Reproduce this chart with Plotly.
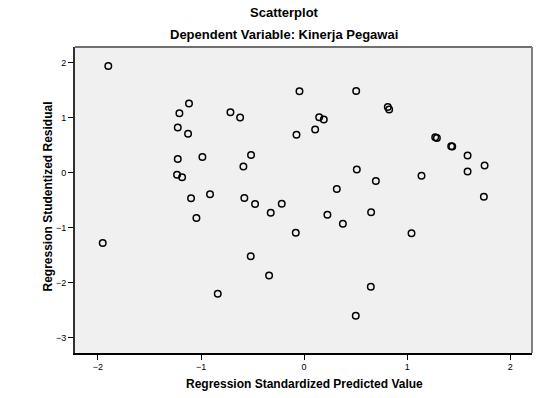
import plotly.graph_objects as go

# Regression Standardized Predicted Value (x) and Studentized Residual (y)
pred = [-1.900, -1.117, -1.210, -0.715, -0.621, -1.226, -1.126, -0.074, -0.045,
        -1.226, -0.987, -0.515, -0.589, -1.233, -1.184, 0.505, 0.812, 0.825,
        0.146, 0.191, 0.107, 1.272, 1.288, 1.427, 1.437, 1.586, 1.751, 1.586,
        0.511, 0.696, 1.139, 0.317, 1.744, -1.097, -0.913, -0.580, -0.476,
        -0.217, -0.324, -1.045, -0.081, -1.954, -0.518, -0.340, -0.838, 0.226,
        0.650, 0.376, 1.042, 0.647, 0.501]
resid = [1.945, 1.262, 1.085, 1.104, 1.007, 0.825, 0.710, 0.691, 1.485,
         0.249, 0.285, 0.322, 0.116, -0.036, -0.084, 1.491, 1.200, 1.152,
         1.013, 0.970, 0.789, 0.649, 0.631, 0.485, 0.480, 0.316, 0.134, 0.025,
         0.061, -0.151, -0.055, -0.296, -0.436, -0.466, -0.393, -0.460, -0.569,
         -0.563, -0.727, -0.824, -1.091, -1.278, -1.520, -1.873, -2.206, -0.764,
         -0.721, -0.927, -1.103, -2.078, -2.605]

x_ticks = [-2, -1, 0, 1, 2]
y_ticks = [-3, -2, -1, 0, 1, 2]

title = "Scatterplot"
subtitle = "Dependent Variable: Kinerja Pegawai"
x_title = "Regression Standardized Predicted Value"
y_title = "Regression Studentized Residual"

FONT = "Arial, Liberation Sans, sans-serif"

fig = go.Figure(go.Scatter(
    x=pred, y=resid, mode="markers",
    marker=dict(symbol="circle-open", size=6.5, color="black",
                line=dict(width=1.5, color="black")),
    hoverinfo="skip", showlegend=False,
))

W, H = 558, 398
L, R, T, B = 75, 26, 47, 45
plot_h = H - T - B
plot_w = W - L - R

def py(px):
    return (H - B - px) / plot_h

def pxx(px):
    return (px - L) / plot_w

fig.update_layout(
    width=W, height=H, autosize=False,
    margin=dict(l=L, r=R, t=T, b=B, pad=0),
    paper_bgcolor="white", plot_bgcolor="#f0f0f0",
    font=dict(family=FONT, size=9, color="black"),
    xaxis=dict(range=[-2.223, 2.211], tickvals=x_ticks, ticks="outside",
               ticklen=5, tickwidth=1, tickcolor="black", showgrid=False,
               zeroline=False, showline=True, linecolor="black", linewidth=1.5,
               tickfont=dict(size=9), fixedrange=True),
    yaxis=dict(range=[-3.284, 2.291], tickvals=y_ticks, ticks="outside",
               ticklen=5, tickwidth=1, tickcolor="black", showgrid=False,
               zeroline=False, showline=True, linecolor="#303030", linewidth=2,
               tickfont=dict(size=9), fixedrange=True),
    shapes=[
        dict(type="line", xref="paper", yref="paper", x0=0, x1=1, y0=1, y1=1,
             line=dict(color="#707070", width=2)),
        dict(type="line", xref="paper", yref="paper", x0=1, x1=1, y0=0, y1=1,
             line=dict(color="#808080", width=2)),
    ],
    annotations=[
        dict(text="<b>%s</b>" % title, xref="paper", yref="paper",
             x=pxx(284), y=py(13), xanchor="center", yanchor="middle",
             showarrow=False, font=dict(size=13, family=FONT)),
        dict(text="<b>%s</b>" % subtitle, xref="paper", yref="paper",
             x=pxx(284), y=py(35), xanchor="center", yanchor="middle",
             showarrow=False, font=dict(size=13, family=FONT)),
        dict(text="<b>%s</b>" % x_title, xref="paper", yref="paper",
             x=pxx(304), y=py(384), xanchor="center", yanchor="middle",
             showarrow=False, font=dict(size=12, family=FONT)),
        dict(text="<b>%s</b>" % y_title, xref="paper", yref="paper",
             x=pxx(47.5), y=py(197), xanchor="center", yanchor="middle",
             textangle=-90, showarrow=False, font=dict(size=12, family=FONT)),
    ],
)

fig.write_html(
    "out.html",
    config={"displayModeBar": False, "staticPlot": True},
    post_script="document.body.style.margin='0';document.body.style.overflow='hidden';",
)
